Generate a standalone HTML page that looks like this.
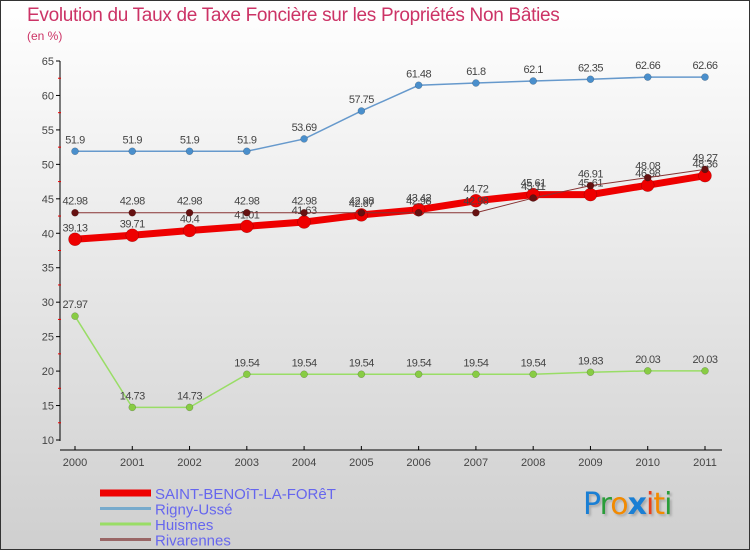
<!DOCTYPE html>
<html><head><meta charset="utf-8"><style>
body{margin:0;}
#wrap{width:748px;height:548px;border:1px solid #333;position:relative;background:linear-gradient(#ffffff,#cfcfcf);font-family:"Liberation Sans",sans-serif;overflow:hidden}
.t{position:absolute;white-space:nowrap}
</style></head><body>
<div id="wrap">
<div class="t" style="left:26px;top:4px;font-size:19px;color:#cc3366;letter-spacing:-0.3px">Evolution du Taux de Taxe Foncière sur les Propriétés Non Bâties</div>
<div class="t" style="left:26px;top:28px;font-size:12px;color:#cc3366">(en %)</div>
<svg id="svg" width="750" height="550" style="position:absolute;left:-1px;top:-1px"></svg>
<div class="t" style="left:582px;top:486px;font-size:30px;font-family:'DejaVu Sans',sans-serif;letter-spacing:-1px;text-shadow:2px 2px 2px #aaa"><span style="color:#1a7fd4">P</span><span style="color:#2a9d3a">r</span><span style="color:#f28a00">o</span><span style="color:#1a7fd4;font-weight:bold">x</span><span style="color:#e8401a">i</span><span style="color:#f28a00">t</span><span style="color:#2a9d3a">i</span></div>
</div>
<script>
const years=[2000,2001,2002,2003,2004,2005,2006,2007,2008,2009,2010,2011];
const yTicks=[10,15,20,25,30,35,40,45,50,55,60,65];
const saint=[39.13,39.71,40.4,41.01,41.63,42.67,43.42,44.72,45.61,45.61,46.98,48.36];
const rigny=[51.9,51.9,51.9,51.9,53.69,57.75,61.48,61.8,62.1,62.35,62.66,62.66];
const huismes=[27.97,14.73,14.73,19.54,19.54,19.54,19.54,19.54,19.54,19.83,20.03,20.03];
const riva=[42.98,42.98,42.98,42.98,42.98,42.98,42.98,42.98,45.11,46.91,48.08,49.27];
const names=["SAINT-BENOîT-LA-FORêT","Rigny-Ussé","Huismes","Rivarennes"];
const NS="http://www.w3.org/2000/svg";
const svg=document.getElementById('svg');
const X=i=>75+i*(630/11);
const Y=v=>61+(65-v)*(379/55);
function el(t,a,p){const e=document.createElementNS(NS,t);for(const k in a)e.setAttribute(k,a[k]);(p||svg).appendChild(e);return e;}
function fmt(v){return String(v).replace('.','.');}
// axes
let ax=el('line',{x1:60,y1:61,x2:60,y2:441,stroke:'#000','stroke-width':1});


let bx=el('line',{x1:60,y1:450,x2:722,y2:450,stroke:'#000','stroke-width':1});


yTicks.forEach(v=>{
  el('line',{x1:56,y1:Y(v),x2:60,y2:Y(v),stroke:'#000'});
  if(v<65){el('line',{x1:58,y1:Y(v+2.5),x2:61,y2:Y(v+2.5),stroke:'#e00'});}
  const t=el('text',{x:54,y:Y(v)+4,'text-anchor':'end','font-size':11,fill:'#444','font-family':'Liberation Sans'});t.textContent=v;
  
  
});
years.forEach((y,i)=>{
  el('line',{x1:X(i),y1:446,x2:X(i),y2:450,stroke:'#000'});
  const t=el('text',{x:X(i),y:466,'text-anchor':'middle','font-size':11,fill:'#444','font-family':'Liberation Sans'});t.textContent=y;
  
  
});
function series(data,color,w,r,dot,name){
  const g=el('g',{});
  
  
  el('polyline',{points:data.map((v,i)=>X(i)+','+Y(v)).join(' '),fill:'none',stroke:color,'stroke-width':w},g);
  data.forEach((v,i)=>{
    const c=el('circle',{cx:X(i),cy:Y(v),r:r,fill:dot,stroke:'rgba(0,0,0,0.3)','stroke-width':0.5},g);
    
    
    const t=el('text',{x:X(i),y:Y(v)-8,'text-anchor':'middle','font-size':11,fill:'#444','font-family':'Liberation Sans','letter-spacing':'-0.5'},g);
    t.textContent=fmt(v);
  });
}
series(huismes,'#99dd66',1.5,3.5,'#88cc44','series-huismes');
series(rigny,'#6699cc',1.5,3.5,'#4a8fcc','series-rigny-usse');
series(saint,'#ee0000',7,6.5,'#ee0000','series-saint-benoit');
series(riva,'#883333',1,3.5,'#661111','series-rivarennes');
// legend
const lc=['#ee0000','#77aacc','#99dd66','#996666'];const lw=[7,3,3,3];
names.forEach((n,i)=>{
  const y=493+i*15.5;
  const l=el('line',{x1:100,y1:y,x2:151,y2:y,stroke:lc[i],'stroke-width':lw[i]});
  
  
  const t=el('text',{x:155,y:y+6,'font-size':15,fill:'#6666ee','font-family':'Liberation Sans'});t.textContent=n;
  
  
});
</script>
</body></html>
